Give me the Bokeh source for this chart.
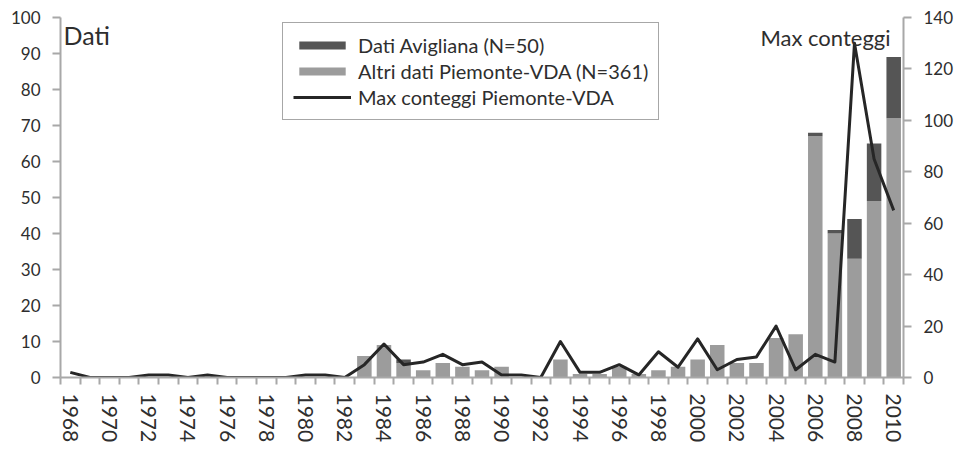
from bokeh.plotting import figure
from bokeh.models import (Range1d, LinearAxis, FixedTicker,
                          Legend, LegendItem, Label, ColumnDataSource)
from bokeh.embed import file_html
from bokeh.resources import INLINE

# ---- data ----
years = list(range(1968, 2011))
altri = [0, 0, 0, 0, 0, 0, 0, 0, 0, 0, 0, 0, 0, 0, 0,
         6, 9, 4, 2, 4, 3, 2, 3, 0, 0,
         5, 1, 1, 3, 1, 2, 3, 5, 9, 4, 4, 11, 12,
         67, 40, 33, 49, 72]
avigliana = [0, 0, 0, 0, 0, 0, 0, 0, 0, 0, 0, 0, 0, 0, 0,
             0, 0, 1, 0, 0, 0, 0, 0, 0, 0,
             0, 0, 0, 0, 0, 0, 0, 0, 0, 0, 0, 0, 0,
             1, 1, 11, 16, 17]
max_conteggi = [2, 0, 0, 0, 1, 1, 0, 1, 0, 0, 0, 0, 1, 1, 0,
                5, 13, 5, 6, 9, 5, 6, 1, 1, 0,
                14, 2, 2, 5, 1, 10, 4, 15, 3, 7, 8, 20, 3,
                9, 6, 130, 85, 65]
label_years = [y for y in years if y % 2 == 0]
left_ticks = list(range(0, 101, 10))
right_ticks = list(range(0, 141, 20))

FONT = "Lato"
TXT = "#2e2e2e"
AX = "#a8a8a8"
DARK = "#555555"
LIGHT = "#9c9c9c"
LINE = "#262626"

src = ColumnDataSource(dict(year=years, altri=altri, avigliana=avigliana, mx=max_conteggi))

p = figure(width=965, height=453, output_backend="svg", toolbar_location=None,
           x_range=Range1d(years[0] - 0.5, years[-1] + 0.5),
           y_range=Range1d(0, 100),
           x_axis_type=None, y_axis_type=None,
           min_border_left=60, min_border_right=62, min_border_top=17, min_border_bottom=76)
p.extra_y_ranges = {"right": Range1d(0, 140)}
p.outline_line_color = None
p.background_fill_color = "white"

bars = p.vbar_stack(["altri", "avigliana"], x="year", width=0.74, source=src,
                    color=[LIGHT, DARK], line_color=None)
ln = p.line("year", "mx", source=src, y_range_name="right", line_color=LINE,
            line_width=3, line_join="round")

# x axis: ticks between categories, labels on even years
boundaries = [y - 0.5 for y in years] + [years[-1] + 0.5]
xax = LinearAxis(ticker=FixedTicker(ticks=label_years, minor_ticks=boundaries))
xax.axis_line_color = AX
xax.axis_line_width = 2
xax.major_tick_out = 7
xax.major_tick_in = 0
xax.major_tick_line_color = None
xax.minor_tick_out = 7
xax.minor_tick_in = 0
xax.minor_tick_line_color = AX
xax.minor_tick_line_width = 2
xax.major_label_orientation = "vertical"
xax.major_label_standoff = 9
xax.major_label_text_font = FONT
xax.major_label_text_font_size = "21px"
xax.major_label_text_color = TXT
p.add_layout(xax, "below")

lax = LinearAxis(ticker=FixedTicker(ticks=left_ticks))
rax = LinearAxis(ticker=FixedTicker(ticks=right_ticks), y_range_name="right")
for ax in (lax, rax):
    ax.axis_line_color = AX
    ax.axis_line_width = 2
    ax.major_tick_out = 8
    ax.major_tick_in = 0
    ax.major_tick_line_color = AX
    ax.major_tick_line_width = 2
    ax.minor_tick_line_color = None
    ax.major_label_standoff = 12
    ax.major_label_text_font = FONT
    ax.major_label_text_font_size = "17px"
    ax.major_label_text_color = TXT
p.add_layout(lax, "left")
p.add_layout(rax, "right")

# axis titles inside the plot
p.add_layout(Label(x=3, y=358, x_units="screen", y_units="screen", text="Dati",
                   text_baseline="top", text_align="left", text_font=FONT,
                   text_font_size="25px", text_color=TXT))
p.add_layout(Label(x=830, y=354, x_units="screen", y_units="screen", text="Max conteggi",
                   text_baseline="top", text_align="right", text_font=FONT,
                   text_font_size="22px", text_color=TXT))

legend = Legend(items=[
    LegendItem(label="Dati Avigliana (N=50)", renderers=[bars[1]]),
    LegendItem(label="Altri dati Piemonte-VDA (N=361)", renderers=[bars[0]]),
    LegendItem(label="Max conteggi Piemonte-VDA", renderers=[ln]),
], location=(222, 257))
legend.border_line_color = "#505050"
legend.border_line_width = 1.5
legend.background_fill_alpha = 1
legend.padding = 10
legend.spacing = 2
legend.margin = 0
legend.label_standoff = 7
legend.glyph_width = 58
legend.glyph_height = 10
legend.label_height = 20
legend.label_text_font = FONT
legend.label_text_font_size = "20px"
legend.label_text_color = TXT
p.add_layout(legend, "center")

open("out.html", "w").write(file_html(p, INLINE))
